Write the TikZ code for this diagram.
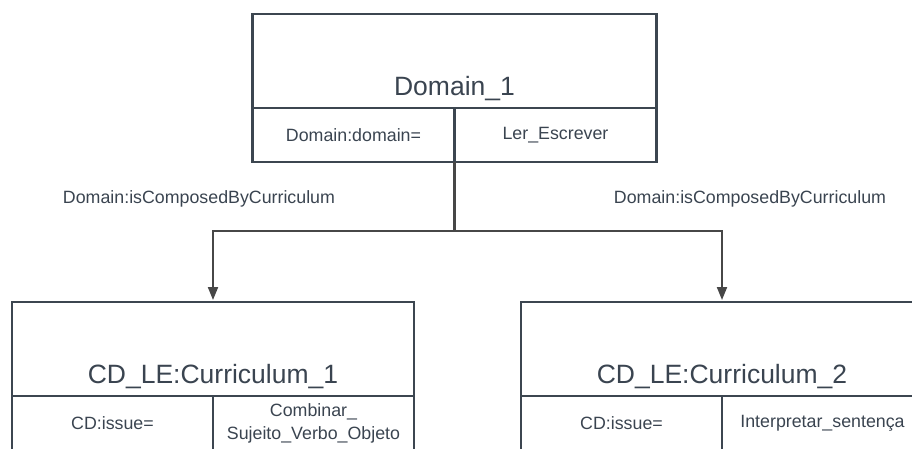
\documentclass[tikz,border=0pt]{standalone}
\usepackage{fontspec}
\setmainfont{Liberation Sans}
\usetikzlibrary{arrows.meta, positioning}
\usepackage{xcolor}

\definecolor{boxline}{HTML}{3C4650}
\definecolor{boxtext}{HTML}{3A4450}
\definecolor{linkline}{HTML}{474747}

\tikzset{
    titlebox/.style={draw=boxline, line width=2.5pt, rectangle, minimum width=402pt, minimum height=94pt, inner sep=0pt, outer sep=0pt},
    cellbox/.style={draw=boxline, line width=2.5pt, rectangle, minimum width=201pt, minimum height=54pt, inner sep=0pt, outer sep=0pt, align=center, text=boxtext, font=\fontsize{17.8}{23}\selectfont},
    titletext/.style={text=boxtext, anchor=base, font=\fontsize{26.5}{30}\selectfont},
    linklabel/.style={text=boxtext, font=\fontsize{17.8}{21}\selectfont},
    conn/.style={draw=linkline, line width=2pt},
}

\begin{document}
\begin{tikzpicture}[x=1pt, y=-1pt]
    \useasboundingbox (0,0) rectangle (912,448);
    \clip (0,0) rectangle (912,448);

    % Box for Domain_1
    \node[titlebox, minimum width=404pt] (Dom) at (454.5,61) {};
    \node[titletext] (DomName) at ([yshift=12.5pt]Dom.south) {Domain\_1};
    \node[cellbox, minimum width=202pt, below right=0pt and 0pt of Dom.south west] (DomKey) {Domain:domain=};
    \node[cellbox, minimum width=202pt, right=0pt of DomKey] (DomVal) {Ler\_Escrever};

    % Box for Curriculum_1
    \node[titlebox] (C1) at (213,349) {};
    \node[titletext] (C1Name) at ([yshift=13pt]C1.south) {CD\_LE:Curriculum\_1};
    \node[cellbox, below right=0pt and 0pt of C1.south west] (C1Key) {CD:issue=};
    \node[cellbox, right=0pt of C1Key] (C1Val) {Combinar\_\\Sujeito\_Verbo\_Objeto};

    % Box for Curriculum_2
    \node[titlebox] (C2) at (722,349) {};
    \node[titletext] (C2Name) at ([yshift=13pt]C2.south) {CD\_LE:Curriculum\_2};
    \node[cellbox, below right=0pt and 0pt of C2.south west] (C2Key) {CD:issue=};
    \node[cellbox, right=0pt of C2Key] (C2Val) {Interpretar\_sentença};

    % Relation labels
    \node[linklabel] (LinkL) at (199,199) {Domain:isComposedByCurriculum};
    \node[linklabel] (LinkR) at (750,199) {Domain:isComposedByCurriculum};

    % Arrows
    \coordinate (split) at (454.5,231);
    \draw[conn, line width=3pt] (DomKey.south east) -- (split);
    \draw[conn, -{Triangle[length=13pt, width=10pt]}, shorten >=2pt] (split) -| (C1.north);
    \draw[conn, -{Triangle[length=13pt, width=10pt]}, shorten >=2pt] (split) -| (C2.north);
\end{tikzpicture}
\end{document}
